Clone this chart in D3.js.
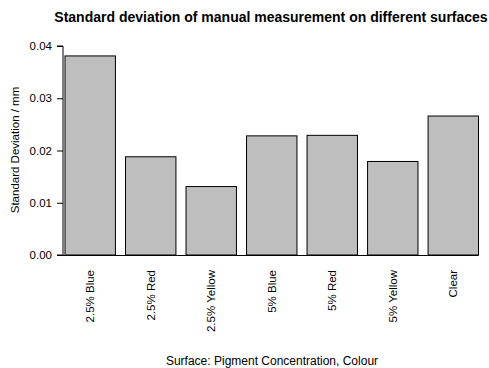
<!DOCTYPE html>
<html><head><meta charset="utf-8">
<script src="https://cdn.jsdelivr.net/npm/d3@7"></script>
<style>body{margin:0;background:#fff}svg{display:block}text{font-family:"Liberation Sans",Arial,Helvetica,sans-serif}</style>
</head><body>
<script>
const categories = ["2.5% Blue","2.5% Red","2.5% Yellow","5% Blue","5% Red","5% Yellow","Clear"];
const values = [0.0381,0.0188,0.0131,0.0228,0.0229,0.0179,0.0266];
const yTicks = [0,0.01,0.02,0.03,0.04];

const W=489,H=368;
const svg=d3.select("body").append("svg").attr("width",W).attr("height",H);
const mLeft=63, mRight=478.5, mBottom=255, mTop=46;
const x=d3.scaleBand().domain(categories).range([mLeft+2, mRight]).paddingInner(0.2/1.2).paddingOuter(0);
const y=d3.scaleLinear().domain([0,0.04]).range([mBottom,mTop]);

svg.append("text").attr("x",271).attr("y",22).attr("text-anchor","middle")
  .attr("font-weight","bold").attr("font-size",14).text("Standard deviation of manual measurement on different surfaces");

svg.selectAll("rect.bar").data(values).join("rect").attr("class","bar")
  .attr("x",(d,i)=>x(categories[i])).attr("width",x.bandwidth())
  .attr("y",d=>y(d)).attr("height",d=>mBottom-y(d))
  .attr("fill","#bebebe").attr("stroke","#000").attr("stroke-width",1);

svg.append("line").attr("x1",mLeft).attr("x2",mRight).attr("y1",mBottom+0.5).attr("y2",mBottom+0.5).attr("stroke","#000");

const ya=svg.append("g").attr("transform",`translate(${mLeft},0)`)
  .call(d3.axisLeft(y).tickValues(yTicks).tickFormat(d3.format(".2f")).tickSize(6).tickPadding(5));
ya.select(".domain").attr("d",`M-6,${y(0.04)}H0V${y(0)}H-6`);
ya.selectAll("text").attr("font-size",11.5).attr("fill","#000").style("font-family",'"Liberation Sans",Arial,sans-serif');

svg.selectAll("text.cat").data(categories).join("text").attr("class","cat")
  .attr("transform",d=>`translate(${x(d)+x.bandwidth()/2+4},270) rotate(-90)`)
  .attr("text-anchor","end").attr("font-size",11.5).text(d=>d);

svg.append("text").attr("transform","translate(19,150) rotate(-90)").attr("text-anchor","middle")
  .attr("font-size",11.5).text("Standard Deviation / mm");
svg.append("text").attr("x",272).attr("y",365).attr("text-anchor","middle")
  .attr("font-size",12).text("Surface: Pigment Concentration, Colour");
</script>
</body></html>
